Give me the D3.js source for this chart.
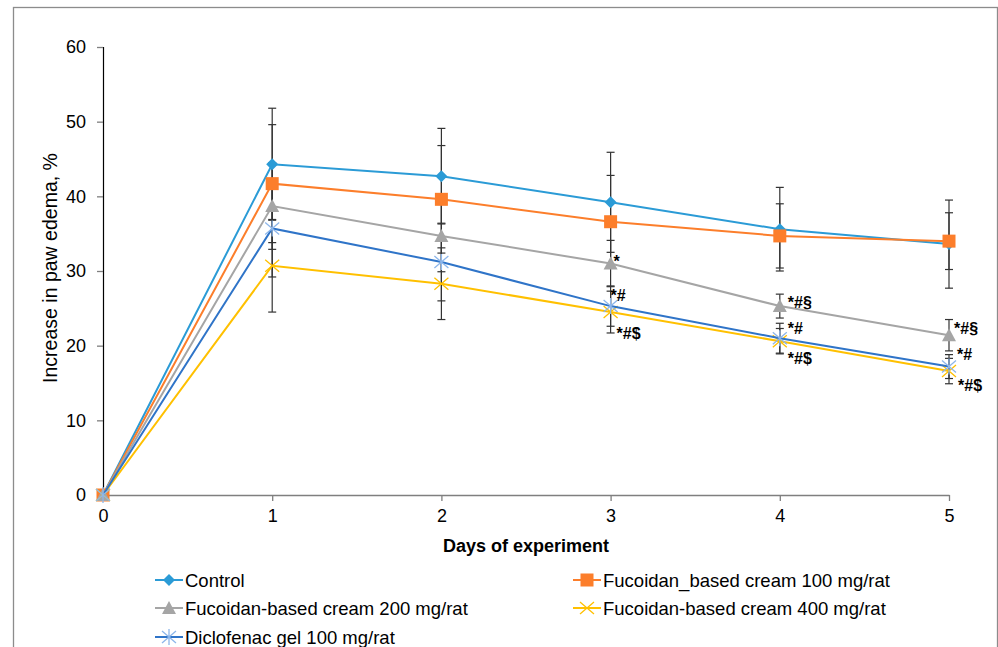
<!DOCTYPE html>
<html>
<head>
<meta charset="utf-8">
<script src="https://cdn.jsdelivr.net/npm/d3@7"></script>
<style>
  body { margin: 0; background: #fff; }
  svg { display: block; font-family: Arial, "Liberation Sans", sans-serif; }
</style>
</head>
<body>
<div id="chart"></div>
<script>
'use strict';

// data
var days = [0, 1, 2, 3, 4, 5];
var controlVals   = [0, 44.3, 42.7, 39.2, 35.6, 33.6];
var controlErr    = [0, 7.5, 6.4, 6.7, 5.6, 5.9];
var fuc100Vals    = [0, 41.7, 39.6, 36.6, 34.7, 34.0];
var fuc100Err     = [0, 7.9, 7.2, 6.2, 4.3, 3.8];
var fuc200Vals    = [0, 38.7, 34.7, 31.0, 25.3, 21.4];
var fuc200Err     = [0, 5.8, 4.8, 3.1, 1.6, 2.1];
var fuc400Vals    = [0, 30.7, 28.3, 24.5, 20.6, 16.6];
var fuc400Err     = [0, 6.2, 4.8, 2.8, 1.7, 1.7];
var diclofVals    = [0, 35.7, 31.2, 25.3, 21.0, 17.2];
var diclofErr     = [0, 6.5, 5.2, 2.7, 2.0, 1.6];
var yTicks = [0, 10, 20, 30, 40, 50, 60];
var annotations = [
  {day: 3, v: 31.0, dy: 3, dx: 3, text: '*'},
  {day: 3, v: 25.3, dy: -5, dx: 0, text: '*#'},
  {day: 3, v: 24.5, dy: 27, dx: 6, text: '*#$'},
  {day: 4, v: 25.3, dy: 2, dx: 8, text: '*#§'},
  {day: 4, v: 21.0, dy: -4, dx: 8, text: '*#'},
  {day: 4, v: 20.6, dy: 23, dx: 8, text: '*#$'},
  {day: 5, v: 21.4, dy: -1, dx: 5, text: '*#§'},
  {day: 5, v: 17.2, dy: -7, dx: 8, text: '*#'},
  {day: 5, v: 16.6, dy: 20, dx: 9, text: '*#$'}
];

var series = [
  {name: 'Control', vals: controlVals, err: controlErr, color: '#2b9bd6', mcolor: '#2b9bd6', shape: 'diamond'},
  {name: 'Fucoidan_based cream 100 mg/rat', vals: fuc100Vals, err: fuc100Err, color: '#fc7e2b', mcolor: '#fc7e2b', shape: 'square'},
  {name: 'Fucoidan-based cream 200 mg/rat', vals: fuc200Vals, err: fuc200Err, color: '#a5a5a5', mcolor: '#a5a5a5', shape: 'triangle'},
  {name: 'Fucoidan-based cream 400 mg/rat', vals: fuc400Vals, err: fuc400Err, color: '#ffc000', mcolor: '#ffc000', shape: 'x'},
  {name: 'Diclofenac gel 100 mg/rat', vals: diclofVals, err: diclofErr, color: '#2f74c8', mcolor: '#8db6ea', shape: 'star'}
];

var W = 998, H = 647;
var FS = 18;
var svg = d3.select('#chart').append('svg').attr('width', W).attr('height', H);

// outer frame
svg.append('rect').attr('x', 13.5).attr('y', 7.5).attr('width', 984).attr('height', 700)
  .attr('fill', 'none').attr('stroke', '#8c8c8c').attr('stroke-width', 1.3);

var x = d3.scaleLinear().domain([0, 5]).range([103, 949]);
var y = d3.scaleLinear().domain([0, 60]).range([495, 47]);

// y axis
var yAxis = svg.append('g').attr('transform', 'translate(103,0)')
  .call(d3.axisLeft(y).tickValues(yTicks).tickSize(6).tickPadding(11));
yAxis.select('.domain').attr('stroke', '#000').attr('stroke-width', 1.2);
yAxis.selectAll('.tick line').attr('stroke', '#7f7f7f').attr('stroke-width', 1.3);
yAxis.selectAll('text').attr('font-size', FS).attr('fill', '#000').attr('font-family', 'Arial, "Liberation Sans", sans-serif');

// x axis
var xAxis = svg.append('g').attr('transform', 'translate(0,495)')
  .call(d3.axisBottom(x).tickValues(days).tickFormat(d3.format('d')).tickSize(6).tickSizeOuter(0).tickPadding(8));
xAxis.select('.domain').attr('stroke', '#7f7f7f').attr('stroke-width', 1.3);
xAxis.selectAll('.tick line').attr('stroke', '#7f7f7f').attr('stroke-width', 1.3);
xAxis.selectAll('text').attr('font-size', FS).attr('fill', '#000').attr('font-family', 'Arial, "Liberation Sans", sans-serif');

// axis titles
svg.append('text').attr('transform', 'translate(57,268) rotate(-90)')
  .attr('text-anchor', 'middle').attr('font-size', 19.5).attr('fill', '#000')
  .text('Increase in paw edema, %');
svg.append('text').attr('x', 526).attr('y', 552).attr('text-anchor', 'middle')
  .attr('font-size', FS).attr('font-weight', 'bold').attr('fill', '#000')
  .text('Days of experiment');

// error bars
var eg = svg.append('g');
series.forEach(function (s) {
  days.forEach(function (d, i) {
    if (!s.err[i]) return;
    var y1 = y(s.vals[i] + s.err[i]), y2 = y(s.vals[i] - s.err[i]), cx = x(d);
    eg.append('line').attr('x1', cx).attr('x2', cx).attr('y1', y1).attr('y2', y2)
      .attr('stroke', '#333').attr('stroke-width', 1.2);
    [y1, y2].forEach(function (yy) {
      eg.append('line').attr('x1', cx - 4).attr('x2', cx + 4).attr('y1', yy).attr('y2', yy)
        .attr('stroke', '#333').attr('stroke-width', 1.2);
    });
  });
});

function drawMarker(g, shape, cx, cy, s) {
  if (shape === 'diamond') {
    g.append('path').attr('d', 'M' + cx + ',' + (cy - 6) + 'L' + (cx + 6) + ',' + cy + 'L' + cx + ',' + (cy + 6) + 'L' + (cx - 6) + ',' + cy + 'Z')
      .attr('fill', s.mcolor);
  } else if (shape === 'square') {
    g.append('rect').attr('x', cx - 6.5).attr('y', cy - 6.5).attr('width', 13).attr('height', 13).attr('fill', s.mcolor);
  } else if (shape === 'triangle') {
    g.append('path').attr('d', 'M' + cx + ',' + (cy - 7) + 'L' + (cx + 7) + ',' + (cy + 6) + 'L' + (cx - 7) + ',' + (cy + 6) + 'Z')
      .attr('fill', s.mcolor);
  } else if (shape === 'x') {
    g.append('path').attr('d', 'M' + (cx - 7) + ',' + (cy - 6) + 'L' + (cx + 7) + ',' + (cy + 6) + 'M' + (cx + 7) + ',' + (cy - 6) + 'L' + (cx - 7) + ',' + (cy + 6))
      .attr('stroke', s.mcolor).attr('stroke-width', 1.3).attr('fill', 'none');
  } else if (shape === 'star') {
    g.append('path').attr('d', 'M' + (cx - 7) + ',' + (cy - 6) + 'L' + (cx + 7) + ',' + (cy + 6) + 'M' + (cx + 7) + ',' + (cy - 6) + 'L' + (cx - 7) + ',' + (cy + 6) + 'M' + cx + ',' + (cy - 8) + 'L' + cx + ',' + (cy + 8))
      .attr('stroke', s.mcolor).attr('stroke-width', 1.3).attr('fill', 'none');
  }
}

var line = d3.line().x(function (d, i) { return x(days[i]); }).y(function (d) { return y(d); });

var lg = svg.append('g');
series.forEach(function (s) {
  lg.append('path').datum(s.vals).attr('d', line).attr('fill', 'none')
    .attr('stroke', s.color).attr('stroke-width', 2);
  s.vals.forEach(function (v, i) { drawMarker(lg, s.shape, x(days[i]), y(v), s); });
});

// significance marks
svg.selectAll('.ann').data(annotations).enter().append('text')
  .attr('x', function (d) { return x(d.day) + d.dx; })
  .attr('y', function (d) { return y(d.v) + d.dy; })
  .attr('font-size', 16).attr('font-weight', 'bold').attr('fill', '#000')
  .text(function (d) { return d.text; });

// legend
var legendPos = [
  {x: 155, y: 580}, {x: 573, y: 580},
  {x: 155, y: 608}, {x: 573, y: 608},
  {x: 155, y: 637}
];
var legendOrder = [0, 1, 2, 3, 4];
legendOrder.forEach(function (si, k) {
  var s = series[si], p = legendPos[k];
  var g = svg.append('g');
  g.append('line').attr('x1', p.x).attr('x2', p.x + 28).attr('y1', p.y).attr('y2', p.y)
    .attr('stroke', s.color).attr('stroke-width', 2);
  drawMarker(g, s.shape, p.x + 14, p.y, s);
  g.append('text').attr('x', p.x + 30).attr('y', p.y + 6.5).attr('font-size', 18.5).attr('fill', '#000')
    .text(s.name);
});
</script>
</body>
</html>
